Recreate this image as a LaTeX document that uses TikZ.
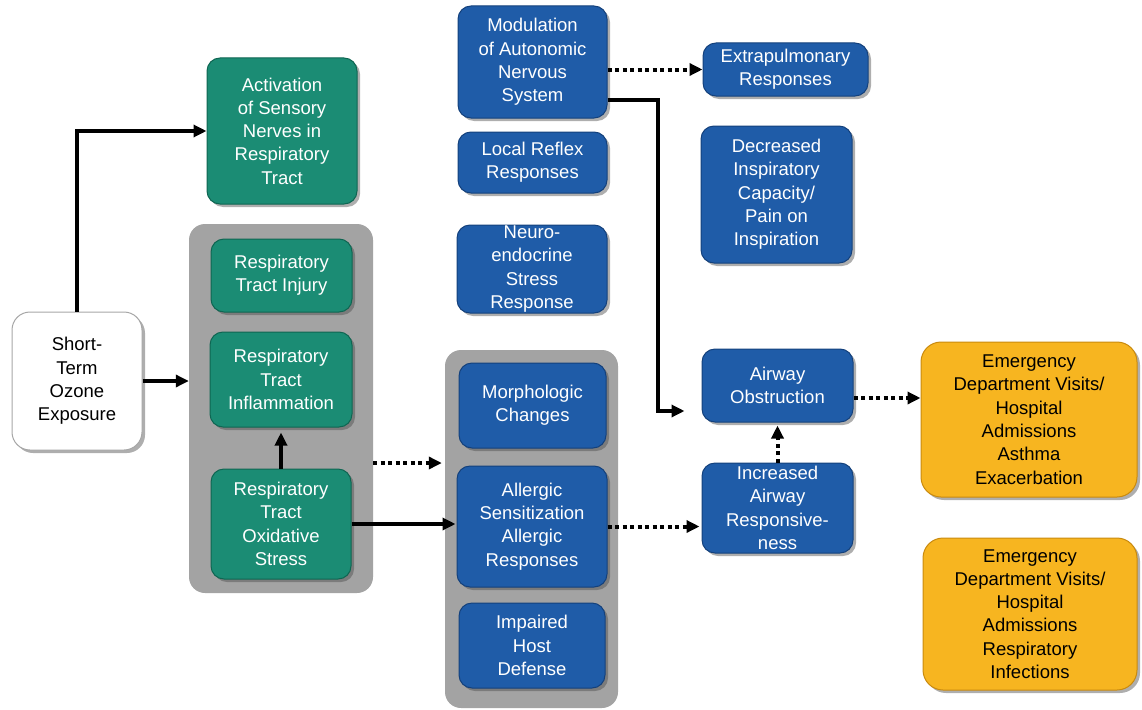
\documentclass[tikz,border=0pt]{standalone}
\usepackage{fontspec}
\setmainfont{Liberation Sans}
\usetikzlibrary{shadows,arrows.meta,calc}
\definecolor{tealc}{HTML}{1B8C74}
\definecolor{teald}{HTML}{0F6652}
\definecolor{bluec}{HTML}{1F5CA8}
\definecolor{blued}{HTML}{14417C}
\definecolor{orac}{HTML}{F7B520}
\definecolor{orad}{HTML}{C98A0E}
\definecolor{grayc}{HTML}{A3A3A3}
\tikzset{
  base/.style={rounded corners=13pt, align=center, inner sep=0pt, line width=1pt,
    font=\fontsize{18.5}{23.3}\selectfont,
    drop shadow={shadow xshift=3pt, shadow yshift=-3pt, opacity=0.45, fill=black!70}},
  gbox/.style={base, fill=tealc, draw=teald, text=white},
  bbox/.style={base, fill=bluec, draw=blued, text=white},
  obox/.style={base, rounded corners=20pt, fill=orac, draw=orad, text=black},
  wbox/.style={base, rounded corners=18pt, fill=white, draw=black!35, text=black},
  cont/.style={rounded corners=16pt, fill=grayc, draw=none, inner sep=0pt},
  arr/.style={line width=3.2pt, -{Triangle[length=13pt,width=12pt]}},
  dotarr/.style={line width=4pt, dash pattern=on 4pt off 3.5pt, -{Triangle[length=13pt,width=12pt]}}
}
\begin{document}
\begin{tikzpicture}[x=1pt,y=-1pt]
\useasboundingbox (0,0) rectangle (1142,709);
% containers
\node[cont, minimum width=184pt, minimum height=369pt] (g1) at (281,408.5) {};
\node[cont, minimum width=173pt, minimum height=358pt] (g2) at (531.5,529) {};
% left
\node[wbox, minimum width=130pt, minimum height=138pt] (short) at (77,381) {Short-\\Term\\Ozone\\Exposure};
\node[gbox, minimum width=150pt, minimum height=146pt] (act) at (282,131) {Activation\\of Sensory\\Nerves in\\Respiratory\\Tract};
\node[gbox, minimum width=141pt, minimum height=73pt] (inj) at (281.5,275.5) {Respiratory\\Tract Injury};
\node[gbox, minimum width=142pt, minimum height=95pt] (infl) at (281,379.5) {Respiratory\\Tract\\Inflammation};
\node[gbox, minimum width=140pt, minimum height=110pt] (oxi) at (281,524) {Respiratory\\Tract\\Oxidative\\Stress};
% middle
\node[bbox, minimum width=149pt, minimum height=112pt] (mod) at (532.5,62) {Modulation\\of Autonomic\\Nervous\\System};
\node[bbox, minimum width=149pt, minimum height=61pt] (loc) at (532.5,162.5) {Local Reflex\\Responses};
\node[bbox, minimum width=150pt, minimum height=88pt] (neu) at (532,269) {Neuro-\\endocrine\\Stress\\Response};
\node[bbox, minimum width=147pt, minimum height=85pt] (mor) at (532.5,405.5) {Morphologic\\Changes};
\node[bbox, minimum width=150pt, minimum height=121pt] (all) at (532,526.5) {Allergic\\Sensitization\\Allergic\\Responses};
\node[bbox, minimum width=146pt, minimum height=85pt] (imp) at (532,645.5) {Impaired\\Host\\Defense};
% right
\node[bbox, minimum width=165pt, minimum height=53pt] (ext) at (785.5,69.5) {Extrapulmonary\\Responses};
\node[bbox, minimum width=151pt, minimum height=137pt] (dec) at (776.5,194.5) {Decreased\\Inspiratory\\Capacity/\\Pain on\\Inspiration};
\node[bbox, minimum width=151pt, minimum height=73pt] (air) at (777.5,385.5) {Airway\\Obstruction};
\node[bbox, minimum width=151pt, minimum height=90pt] (inc) at (777.5,508) {Increased\\Airway\\Responsive-\\ness};
\node[obox, minimum width=216pt, minimum height=155pt] (ed1) at (1029,419.5) {Emergency\\Department Visits/\\Hospital\\Admissions\\Asthma\\Exacerbation};
\node[obox, minimum width=214pt, minimum height=152pt] (ed2) at (1030,614) {Emergency\\Department Visits/\\Hospital\\Admissions\\Respiratory\\Infections};
% helper coordinates
\coordinate (yd) at (0,463);
\coordinate (ym) at (0,100);
\coordinate (bend) at (658,411);
\coordinate (yed) at (0,398);
% connectors
\draw[arr] (short.north) |- (act.west);
\draw[arr] (short.east) -- (g1.west |- short.east);
\draw[arr, shorten >=5pt] (oxi.north) -- (infl.south);
\draw[dotarr, shorten >=3pt] (g1.east |- yd) -- (g2.west |- yd);
\draw[arr, shorten >=1pt] (oxi.east) -- (all.west |- oxi.east);
\draw[dotarr] (mod.east |- ext.west) -- (ext.west);
\draw[arr, shorten >=17pt] (mod.east |- ym) -| (bend) -- (air.west |- bend);
\draw[dotarr, shorten >=2pt] (all.east) -- (inc.west |- all.east);
\draw[dotarr, shorten >=3pt] (inc.north) -- (air.south);
\draw[dotarr] (air.east |- yed) -- (ed1.west |- yed);
\end{tikzpicture}
\end{document}
